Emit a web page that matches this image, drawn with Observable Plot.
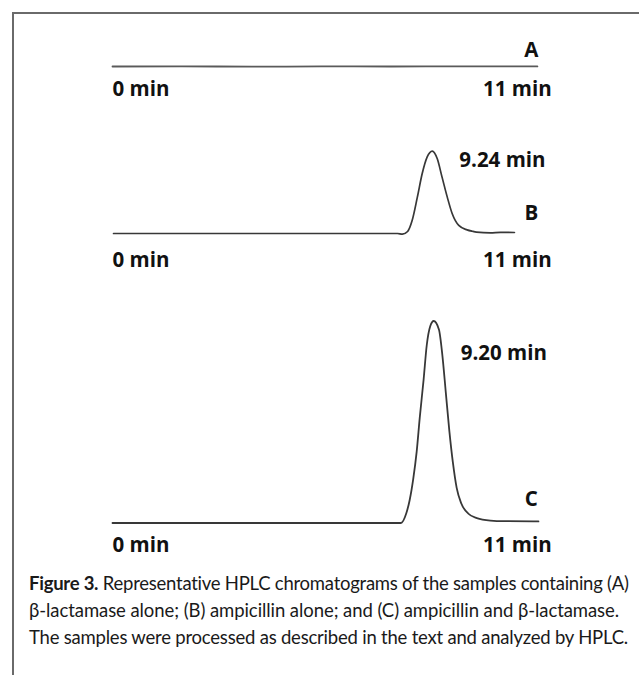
<!DOCTYPE html>
<html>
<head>
<meta charset="utf-8">
<script src="https://cdn.jsdelivr.net/npm/d3@7"></script>
<script src="https://cdn.jsdelivr.net/npm/@observablehq/plot@0.6"></script>
<style>
  html, body { margin: 0; padding: 0; background: #fff; }
  #root { position: relative; width: 639px; height: 675px; overflow: hidden; background: #fff; }
  .frame { position: absolute; left: 12px; top: 12px; width: 700px; height: 700px;
           border-top: 2px solid #6a6a6a; border-left: 2px solid #6a6a6a; box-sizing: border-box; }
  .panel { position: absolute; left: 0; }
  .panel svg { display: block; overflow: visible; }
  .caption { position: absolute; left: 0; top: 570px; width: 639px; height: 105px; }
</style>
</head>
<body>
<div id="root"><div class="frame"></div></div>
<script>
// ---------------- data ----------------
const panelIds = ["A", "B", "C"];
const timeTickValues = [0, 11];
const timeTickLabels = ["0 min", "11 min"];
const peakLabels = [null, "9.24 min", "9.20 min"];

// Trace A: beta-lactamase alone (flat baseline)
const traceA_time = [0, 2, 4, 6, 8, 10, 12.21];
const traceA_signal = [0, 0.1, -0.1, 0.05, 0, 0.1, 0.05];

// Trace B: ampicillin alone
const traceB_time = [0.03, 8.19, 8.33, 8.48, 8.61, 8.76, 8.90, 9.04, 9.19, 9.33, 9.47, 9.62, 9.76, 9.95, 10.19, 10.34, 10.46, 10.86, 11.15, 11.55];
const traceB_signal = [0, 0, -0.35, 1.0, 6.4, 18.0, 29.7, 37.8, 40.8, 37.1, 27.9, 18.0, 9.9, 4.0, 1.8, 1.1, 0.7, 0.35, 0.6, 0.5];

// Trace C: ampicillin + beta-lactamase
const traceC_time = [0, 8.29, 8.44, 8.54, 8.64, 8.74, 8.83, 8.94, 9.03, 9.13, 9.23, 9.38, 9.48, 9.58, 9.68, 9.78, 9.89, 10.02, 10.22, 10.47, 10.86, 11.26, 12.24];
const traceC_signal = [0, 0, 4.7, 11.4, 21.6, 35.2, 52.3, 71.0, 88.0, 97.4, 100, 95.8, 82.9, 64.2, 45.5, 30.1, 17.4, 9.8, 4.7, 2.4, 1.2, 0.9, 0.8];

const captionBold = "Figure 3.";
const captionLines = [
  " Representative HPLC chromatograms of the samples containing (A)",
  "\u03B2-lactamase alone; (B) ampicillin alone; and (C) ampicillin and \u03B2-lactamase.",
  "The samples were processed as described in the text and analyzed by HPLC."
];

// ---------------- layout ----------------
const W = 639;
const X0 = 112, PX_PER_MIN = 34.8, PX_PER_UNIT = 2.02;
const LABEL_FONT = "'Open Sans', 'DejaVu Sans', sans-serif";
const LABEL_SIZE = 20.5;

const panels = [
  {top: 0,   height: 110, base: 66,    time: traceA_time, signal: traceA_signal, stroke: "#5a5a5a", sw: 1.8,
   letterDy: -10, tickDy: 29, peakDy: 0},
  {top: 110, height: 180, base: 123,   time: traceB_time, signal: traceB_signal, stroke: "#383838", sw: 1.7,
   letterDy: -14, tickDy: 33, peakDy: 16.4},
  {top: 290, height: 280, base: 232.5, time: traceC_time, signal: traceC_signal, stroke: "#383838", sw: 1.8,
   letterDy: -17.5, tickDy: 29, peakDy: 39.3}
];

const root = document.getElementById("root");
const textStyle = {fontFamily: LABEL_FONT, fontSize: LABEL_SIZE, fontWeight: "bold", fill: "#111", lineAnchor: "bottom"};

panels.forEach((p, i) => {
  const pts = p.time.map((t, j) => ({t, v: p.signal[j]}));
  const peak = pts.reduce((a, b) => (b.v > a.v ? b : a));
  const marks = [
    Plot.line(pts, {x: "t", y: "v", stroke: p.stroke, strokeWidth: p.sw, curve: "monotone-x"}),
    Plot.text([{t: timeTickValues[0], label: timeTickLabels[0]}], {x: "t", y: () => 0, text: "label", textAnchor: "start", dy: p.tickDy, ...textStyle}),
    Plot.text([{t: timeTickValues[1], label: timeTickLabels[1]}], {x: "t", y: () => 0, text: "label", textAnchor: "middle", dx: 22, dy: p.tickDy, ...textStyle}),
    Plot.text([{t: timeTickValues[1], label: panelIds[i]}], {x: "t", y: () => 0, text: "label", textAnchor: "middle", dx: 36, dy: p.letterDy, ...textStyle})
  ];
  if (peakLabels[i]) {
    marks.push(Plot.text([{t: peak.t, v: peak.v, label: peakLabels[i]}], {x: "t", y: "v", text: "label", textAnchor: "start", dx: 27, dy: p.peakDy, ...textStyle}));
  }
  const chart = Plot.plot({
    width: W,
    height: p.height,
    margin: 0,
    x: {domain: [0, 13], range: [X0, X0 + 13 * PX_PER_MIN], axis: null},
    y: {domain: [0, 1], range: [p.base, p.base - PX_PER_UNIT], axis: null},
    style: {background: "transparent", overflow: "visible"},
    marks
  });
  const div = document.createElement("div");
  div.className = "panel";
  div.style.top = p.top + "px";
  div.appendChild(chart);
  root.appendChild(div);
});

// ---------------- caption ----------------
const capBaselines = [20, 47, 74];
const capWidths = [600, 590, 599];
const BASE_FS = 18.5;
const ns = "http://www.w3.org/2000/svg";
const cap = document.createElementNS(ns, "svg");
cap.setAttribute("class", "caption");
cap.setAttribute("width", W);
cap.setAttribute("height", 105);
root.appendChild(cap);
captionLines.forEach((line, i) => {
  const t = document.createElementNS(ns, "text");
  t.setAttribute("x", 29);
  t.setAttribute("y", capBaselines[i]);
  t.setAttribute("font-family", "Lato, 'Open Sans', sans-serif");
  t.setAttribute("font-size", BASE_FS);
  t.setAttribute("fill", "#1a1a1a");
  t.setAttribute("style", "white-space: pre");
  if (i === 0) {
    const b = document.createElementNS(ns, "tspan");
    b.setAttribute("font-weight", "bold");
    b.textContent = captionBold;
    t.appendChild(b);
  }
  const s = document.createElementNS(ns, "tspan");
  s.textContent = line;
  t.appendChild(s);
  cap.appendChild(t);
  // fit the natural line width to the target width (condensed look)
  const n = t.textContent.length;
  const L = t.getComputedTextLength();
  let ls = (capWidths[i] - L) / n;
  if (ls < -0.45) {
    ls = -0.45;
    const fs = BASE_FS * (capWidths[i] - ls * n) / L;
    t.setAttribute("font-size", fs.toFixed(2));
  }
  t.setAttribute("letter-spacing", ls.toFixed(3));
});
</script>
</body>
</html>
